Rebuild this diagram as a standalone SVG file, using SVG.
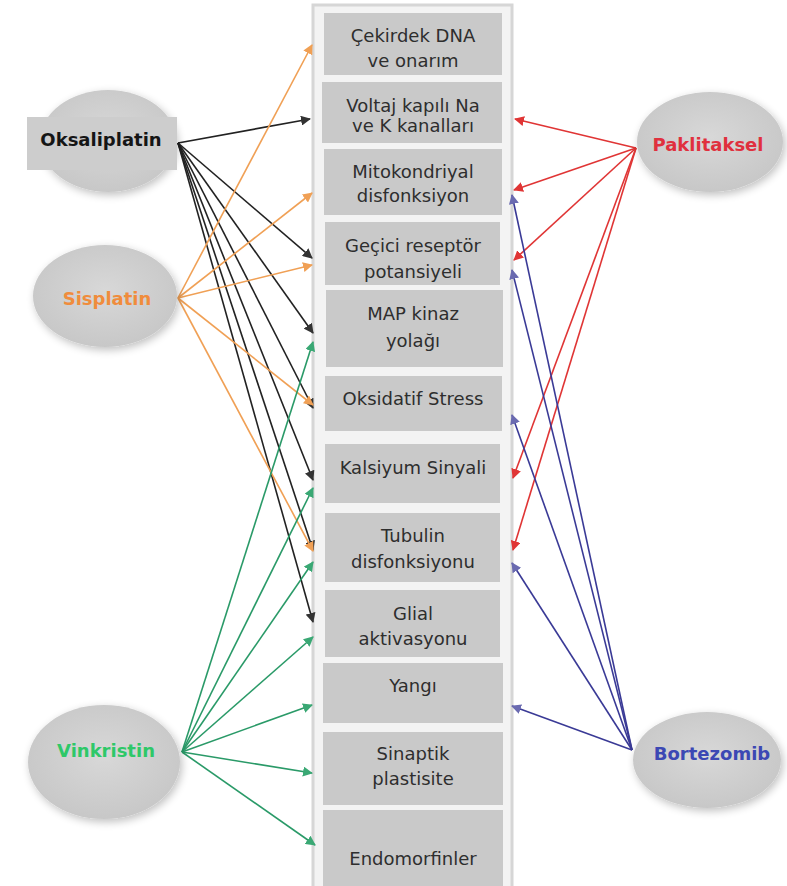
<svg xmlns="http://www.w3.org/2000/svg" width="787" height="886" viewBox="0 0 787 886">
<style>
.box{fill:#c9c9c9}
.bt{font-family:"DejaVu Sans","Noto Sans",sans-serif;font-size:18px;fill:#2e2e2e;text-anchor:middle}
.nt{font-family:"DejaVu Sans","Noto Sans",sans-serif;font-size:18px;font-weight:bold;text-anchor:middle}
.ell{fill:url(#eg);filter:url(#sh)}
.k{stroke:#222;stroke-width:1.6;fill:none;marker-end:url(#mk)}
.o{stroke:#f0a055;stroke-width:1.6;fill:none;marker-end:url(#mo)}
.g{stroke:#2a9a68;stroke-width:1.6;fill:none;marker-end:url(#mg)}
.r{stroke:#e03535;stroke-width:1.6;fill:none;marker-end:url(#mr)}
.b{stroke:#3a3a96;stroke-width:1.6;fill:none;marker-end:url(#mb)}
</style>
<defs>
<radialGradient id="eg" cx="0.5" cy="0.45" r="0.6">
<stop offset="0" stop-color="#d8d8d8"/>
<stop offset="1" stop-color="#c6c6c6"/>
</radialGradient>
<filter id="sh" x="-20%" y="-20%" width="140%" height="140%">
<feGaussianBlur in="SourceAlpha" stdDeviation="4"/>
<feOffset dx="2" dy="3"/>
<feComponentTransfer><feFuncA type="linear" slope="0.25"/></feComponentTransfer>
<feMerge><feMergeNode/><feMergeNode in="SourceGraphic"/></feMerge>
</filter>
<marker id="mk" viewBox="0 0 10 10" refX="9" refY="5" markerWidth="10" markerHeight="10" markerUnits="userSpaceOnUse" orient="auto"><path d="M0,0 L10,5 L0,10 z" fill="#333"/></marker>
<marker id="mo" viewBox="0 0 10 10" refX="9" refY="5" markerWidth="10" markerHeight="10" markerUnits="userSpaceOnUse" orient="auto"><path d="M0,0 L10,5 L0,10 z" fill="#f0a055"/></marker>
<marker id="mg" viewBox="0 0 10 10" refX="9" refY="5" markerWidth="10" markerHeight="10" markerUnits="userSpaceOnUse" orient="auto"><path d="M0,0 L10,5 L0,10 z" fill="#3aa874"/></marker>
<marker id="mr" viewBox="0 0 10 10" refX="9" refY="5" markerWidth="10" markerHeight="10" markerUnits="userSpaceOnUse" orient="auto"><path d="M0,0 L10,5 L0,10 z" fill="#e03535"/></marker>
<marker id="mb" viewBox="0 0 10 10" refX="9" refY="5" markerWidth="10" markerHeight="10" markerUnits="userSpaceOnUse" orient="auto"><path d="M0,0 L10,5 L0,10 z" fill="#6a6ab0"/></marker>
</defs>
<rect width="787" height="886" fill="#ffffff"/>
<g id="panel">
<rect x="313" y="5" width="199" height="890" fill="#f3f3f3" stroke="#d6d6d6" stroke-width="3"/>
</g>
<g id="connectors">
<path class="k" d="M178,143 L310,119"/>
<path class="k" d="M178,143 L312,258"/>
<path class="k" d="M178,143 L313,333"/>
<path class="k" d="M178,143 L313,408"/>
<path class="k" d="M178,143 L313,480"/>
<path class="k" d="M178,143 L313,550"/>
<path class="k" d="M178,143 L313,622"/>
<path class="o" d="M178,298 L312,45"/>
<path class="o" d="M178,298 L312,193"/>
<path class="o" d="M178,298 L312,265"/>
<path class="o" d="M178,298 L313,405"/>
<path class="o" d="M178,298 L313,551"/>
<path class="g" d="M182,752 L313,342"/>
<path class="g" d="M182,752 L313,488"/>
<path class="g" d="M182,752 L313,562"/>
<path class="g" d="M182,752 L313,637"/>
<path class="g" d="M182,752 L312,705"/>
<path class="g" d="M182,752 L312,773"/>
<path class="g" d="M182,752 L315,845"/>
<path class="r" d="M636,148 L515,119"/>
<path class="r" d="M636,148 L514,190"/>
<path class="r" d="M636,148 L514,260"/>
<path class="r" d="M636,148 L513,478"/>
<path class="r" d="M636,148 L513,550"/>
<path class="b" d="M632,750 L512,195"/>
<path class="b" d="M632,750 L512,270"/>
<path class="b" d="M632,750 L512,415"/>
<path class="b" d="M632,750 L512,563"/>
<path class="b" d="M632,750 L512,706"/>
</g>
<g id="b1"><rect class="box" x="324" y="13" width="178" height="62"/><text class="bt" x="413" y="42">Çekirdek DNA</text><text class="bt" x="413" y="67">ve onarım</text></g>
<g id="b2"><rect class="box" x="322" y="82" width="180" height="61"/><text class="bt" x="413" y="112">Voltaj kapılı Na</text><text class="bt" x="413" y="132">ve K kanalları</text></g>
<g id="b3"><rect class="box" x="324" y="149" width="178" height="66"/><text class="bt" x="413" y="178">Mitokondriyal</text><text class="bt" x="413" y="202">disfonksiyon</text></g>
<g id="b4"><rect class="box" x="325" y="222" width="175" height="63"/><text class="bt" x="413" y="252">Geçici reseptör</text><text class="bt" x="413" y="278">potansiyeli</text></g>
<g id="b5"><rect class="box" x="326" y="290" width="177" height="77"/><text class="bt" x="413" y="320">MAP kinaz</text><text class="bt" x="413" y="347">yolağı</text></g>
<g id="b6"><rect class="box" x="325" y="376" width="177" height="55"/><text class="bt" x="413" y="405">Oksidatif Stress</text></g>
<g id="b7"><rect class="box" x="325" y="444" width="175" height="59"/><text class="bt" x="413" y="474">Kalsiyum Sinyali</text></g>
<g id="b8"><rect class="box" x="325" y="513" width="175" height="69"/><text class="bt" x="413" y="542">Tubulin</text><text class="bt" x="413" y="568">disfonksiyonu</text></g>
<g id="b9"><rect class="box" x="325" y="590" width="175" height="67"/><text class="bt" x="413" y="620">Glial</text><text class="bt" x="413" y="645">aktivasyonu</text></g>
<g id="b10"><rect class="box" x="323" y="663" width="180" height="60"/><text class="bt" x="413" y="692">Yangı</text></g>
<g id="b11"><rect class="box" x="323" y="732" width="180" height="73"/><text class="bt" x="413" y="760">Sinaptik</text><text class="bt" x="413" y="785">plastisite</text></g>
<g id="b12"><rect class="box" x="323" y="810" width="180" height="80"/><text class="bt" x="413" y="865">Endomorfinler</text></g>
<g id="oksaliplatin"><ellipse class="ell" cx="108" cy="141" rx="68" ry="51"/><rect x="27" y="117" width="150" height="53" fill="#cdcdcd"/><text class="nt" x="101" y="146" fill="#151515">Oksaliplatin</text></g>
<g id="sisplatin"><ellipse class="ell" cx="105" cy="296" rx="72" ry="51"/><text class="nt" x="107" y="305" fill="#f08c3c">Sisplatin</text></g>
<g id="vinkristin"><ellipse class="ell" cx="104" cy="762" rx="76" ry="57"/><text class="nt" x="106" y="757" fill="#2ec868">Vinkristin</text></g>
<g id="paklitaksel"><ellipse class="ell" cx="710" cy="142" rx="73" ry="50"/><text class="nt" x="708" y="151" fill="#e0303e">Paklitaksel</text></g>
<g id="bortezomib"><ellipse class="ell" cx="707" cy="760" rx="74" ry="48"/><text class="nt" x="712" y="760" fill="#3c48b4">Bortezomib</text></g>
</svg>
